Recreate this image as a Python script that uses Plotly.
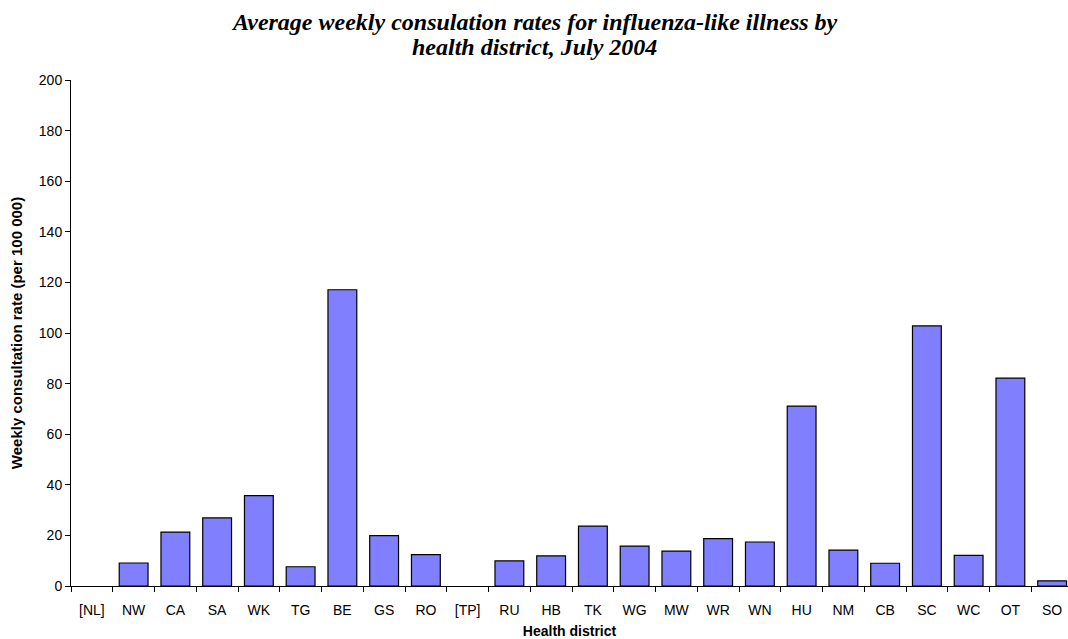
import plotly.graph_objects as go

districts = ["[NL]", "NW", "CA", "SA", "WK", "TG", "BE", "GS", "RO", "[TP]", "RU", "HB",
             "TK", "WG", "MW", "WR", "WN", "HU", "NM", "CB", "SC", "WC", "OT", "SO"]
rates = [None, 9.1, 21.3, 26.9, 35.7, 7.6, 117.1, 19.9, 12.4, None, 9.9, 11.9,
         23.7, 15.8, 13.8, 18.7, 17.4, 71.1, 14.2, 9.0, 102.8, 12.1, 82.2, 2.0]
y_ticks = list(range(0, 201, 20))
title_lines = ["Average weekly consulation rates for influenza-like illness by",
               "health district, July 2004"]

W, H = 1068, 639
L, T, B, R = 71, 80, 53, 0
plot_w = W - L - R
plot_h = H - T - B

fig = go.Figure(go.Bar(
    x=districts, y=rates,
    marker=dict(color="#8080FF", line=dict(color="black", width=1.2)),
    width=0.69,
))

title_font = dict(family="Liberation Serif, Times New Roman, serif", size=24, color="black")
for i, line in enumerate(title_lines):
    fig.add_annotation(
        text=f"<b><i>{line}</i></b>", xref="paper", yref="paper",
        x=(534 - L) / plot_w, xanchor="center",
        y=1 + (T - (22 + 25 * i)) / plot_h, yanchor="middle",
        showarrow=False, font=title_font,
    )

fig.update_layout(
    width=W, height=H,
    paper_bgcolor="white", plot_bgcolor="white",
    margin=dict(l=L, r=R, t=T, b=B, autoexpand=False),
    showlegend=False,
    font=dict(family="Liberation Sans, Arial, sans-serif", size=14, color="black"),
)

fig.update_xaxes(
    type="category",
    title=dict(text="<b>Health district</b>", font=dict(size=14), standoff=9),
    showline=True, linecolor="black", linewidth=1,
    ticks="outside", tickson="boundaries", ticklen=5, tickcolor="black",
    ticklabelstandoff=11,
    showgrid=False, tickfont=dict(size=14),
    range=[-0.5, 23.38],
)
fig.update_yaxes(
    title=dict(text="<b>Weekly consultation rate (per 100 000)</b>", font=dict(size=15), standoff=12),
    range=[0, 200], tickvals=y_ticks,
    showline=True, linecolor="black", linewidth=1,
    ticks="outside", ticklen=5, tickcolor="black",
    showgrid=False, zeroline=False, tickfont=dict(size=14),
)

fig.write_html(
    "out.html",
    config={"displayModeBar": False},
    post_script="document.body.style.margin='0';document.body.style.overflow='hidden';",
)
